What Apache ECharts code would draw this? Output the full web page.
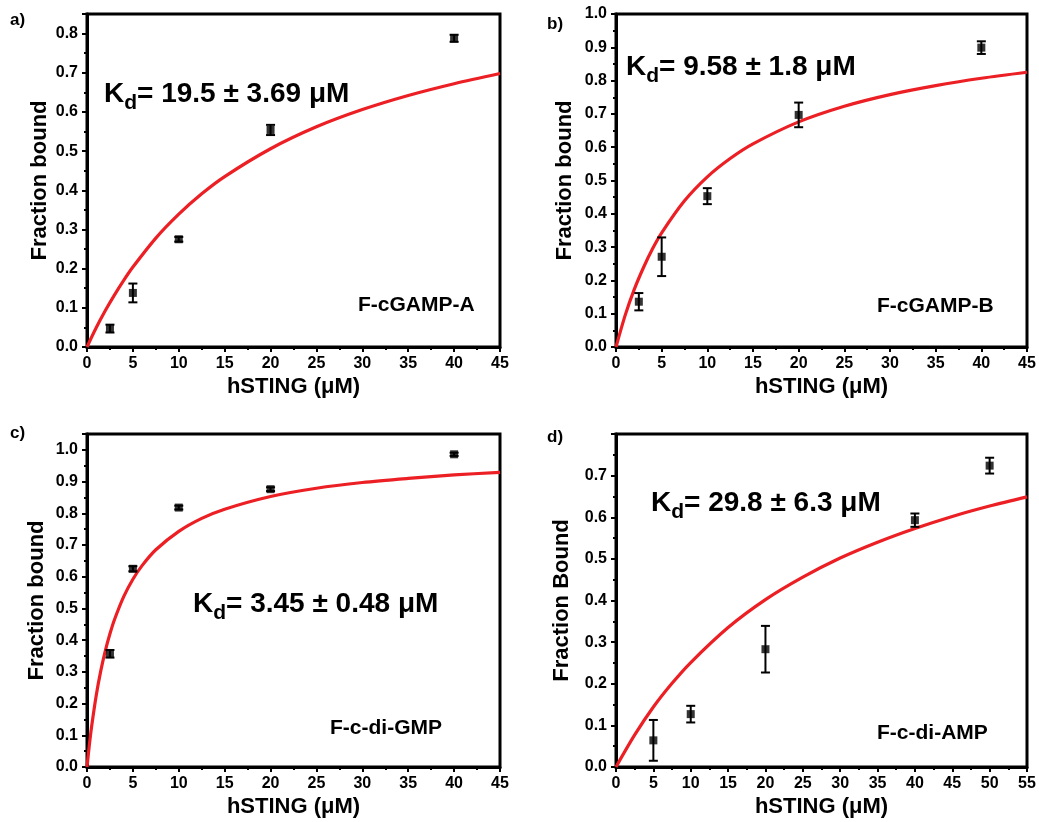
<!DOCTYPE html>
<html>
<head>
<meta charset="utf-8">
<script src="https://cdn.jsdelivr.net/npm/echarts@6/dist/echarts.min.js"></script>
<style>
  html, body { margin: 0; padding: 0; background: #fff; }
  #main { width: 1039px; height: 822px; }
</style>
</head>
<body>
<div id="main"></div>
<script>
// measured points: [hSTING uM, fraction bound, error]
var pointsA = [[2.5, 0.047, 0.010], [5, 0.138, 0.024], [10, 0.275, 0.006], [20, 0.554, 0.013], [40, 0.788, 0.009]];
var pointsB = [[2.5, 0.136, 0.026], [5, 0.271, 0.058], [10, 0.453, 0.024], [20, 0.697, 0.037], [40, 0.899, 0.019]];
var pointsC = [[2.5, 0.357, 0.012], [5, 0.625, 0.008], [10, 0.818, 0.006], [20, 0.876, 0.006], [40, 0.986, 0.005]];
var pointsD = [[5, 0.064, 0.049], [10, 0.127, 0.020], [20, 0.283, 0.056], [40, 0.593, 0.016], [50, 0.724, 0.019]];

// fitted curves
var fitXA = [0, 1, 2, 3, 4, 5, 7.5, 10, 12.5, 15, 20, 25, 30, 35, 40, 45];
var fitYA = [0, 0.049, 0.093, 0.133, 0.170, 0.204, 0.278, 0.339, 0.391, 0.435, 0.506, 0.562, 0.606, 0.642, 0.672, 0.698];
var fitXB = [0, 1, 2, 3, 4, 5, 7.5, 10, 12.5, 15, 20, 25, 30, 35, 40, 45];
var fitYB = [0, 0.095, 0.173, 0.238, 0.295, 0.343, 0.439, 0.511, 0.566, 0.610, 0.676, 0.723, 0.758, 0.785, 0.807, 0.825];
var fitXC = [0, 0.25, 0.5, 1, 1.5, 2, 2.5, 3, 4, 5, 6, 7.5, 10, 12.5, 15, 20, 25, 30, 35, 40, 45];
var fitYC = [0, 0.068, 0.127, 0.225, 0.303, 0.367, 0.420, 0.465, 0.537, 0.592, 0.635, 0.685, 0.743, 0.784, 0.813, 0.853, 0.879, 0.897, 0.910, 0.921, 0.929];
var fitXD = [0, 2.5, 5, 7.5, 10, 15, 20, 25, 30, 35, 40, 45, 50, 55];
var fitYD = [0, 0.077, 0.144, 0.201, 0.251, 0.335, 0.402, 0.456, 0.502, 0.540, 0.573, 0.602, 0.627, 0.649];

var panelLetters = ['a)', 'b)', 'c)', 'd)'];
var kdTexts = ['19.5 ± 3.69 μM', '9.58 ± 1.8 μM', '3.45 ± 0.48 μM', '29.8 ± 6.3 μM'];
var compoundNames = ['F-cGAMP-A', 'F-cGAMP-B', 'F-c-di-GMP', 'F-c-di-AMP'];
var yNames = ['Fraction bound', 'Fraction bound', 'Fraction bound', 'Fraction Bound'];
var xMax = [45, 45, 45, 55];
var yMax = [0.85, 1.0, 1.05, 0.8];

var FONT = '"Liberation Sans", Arial, sans-serif';
var grids = [
  {left: 87, top: 14, width: 413, height: 333},
  {left: 616, top: 14, width: 411, height: 333},
  {left: 87, top: 434, width: 413, height: 333},
  {left: 616, top: 434, width: 411, height: 333}
];
var yGaps = [36, 40, 39, 43];

var allPoints = [pointsA, pointsB, pointsC, pointsD];
var fitX = [fitXA, fitXB, fitXC, fitXD];
var fitY = [fitYA, fitYB, fitYC, fitYD];

var mychart = echarts.init(document.getElementById('main'));

var xAxes = [], yAxes = [], series = [];
for (let i = 0; i < 4; i++) {
  xAxes.push({
    gridIndex: i, type: 'value', min: 0, max: xMax[i], interval: 5,
    name: 'hSTING (μM)', nameLocation: 'middle', nameGap: 29,
    nameTextStyle: {fontFamily: FONT, fontWeight: 'bold', fontSize: 22, color: '#000'},
    axisLine: {show: true, lineStyle: {color: '#000', width: 3}},
    axisTick: {show: true, length: 5, lineStyle: {color: '#000', width: 2}},
    minorTick: {show: true, splitNumber: 2, length: 3, lineStyle: {color: '#000', width: 2}},
    axisLabel: {fontFamily: FONT, fontWeight: 'bold', fontSize: 16, color: '#000', margin: 9},
    splitLine: {show: false}
  });
  yAxes.push({
    gridIndex: i, type: 'value', min: 0, max: yMax[i], interval: 0.1,
    name: yNames[i], nameLocation: 'middle', nameGap: yGaps[i],
    nameTextStyle: {fontFamily: FONT, fontWeight: 'bold', fontSize: 22, color: '#000'},
    axisLine: {show: true, lineStyle: {color: '#000', width: 3}},
    axisTick: {show: true, length: 5, lineStyle: {color: '#000', width: 2}},
    minorTick: {show: true, splitNumber: 2, length: 3, lineStyle: {color: '#000', width: 2}},
    axisLabel: {
      fontFamily: FONT, fontWeight: 'bold', fontSize: 16, color: '#000', margin: 9,
      showMaxLabel: i === 1,
      formatter: function (v) { return v.toFixed(1); }
    },
    splitLine: {show: false}
  });

  let fit = fitX[i].map(function (x, k) { return [x, fitY[i][k]]; });
  series.push({
    type: 'line', xAxisIndex: i, yAxisIndex: i, data: fit, smooth: 0.3,
    showSymbol: false, lineStyle: {color: '#ec1f24', width: 3.2}, z: 3
  });
  series.push({
    type: 'custom', xAxisIndex: i, yAxisIndex: i, data: allPoints[i], z: 4,
    renderItem: function (params, api) {
      let x = api.value(0), y = api.value(1), e = api.value(2);
      let hi = api.coord([x, y + e]), lo = api.coord([x, y - e]);
      let st = {stroke: '#000', lineWidth: 2};
      return {type: 'group', children: [
        {type: 'line', shape: {x1: hi[0], y1: hi[1], x2: lo[0], y2: lo[1]}, style: st},
        {type: 'line', shape: {x1: hi[0] - 4.5, y1: hi[1], x2: hi[0] + 4.5, y2: hi[1]}, style: st},
        {type: 'line', shape: {x1: lo[0] - 4.5, y1: lo[1], x2: lo[0] + 4.5, y2: lo[1]}, style: st}
      ]};
    }
  });
  series.push({
    type: 'scatter', xAxisIndex: i, yAxisIndex: i, z: 5,
    data: allPoints[i].map(function (p) { return [p[0], p[1]]; }),
    symbol: 'rect', symbolSize: 8, itemStyle: {color: '#000'}
  });
}

var letterPos = [[10, 20], [547, 24], [10, 433], [547, 437]];
var kdPos = [[104, 97], [626, 70], [193, 607], [651, 506]];
var namePos = [[358, 305], [877, 306], [330, 728], [877, 733]];

var graphics = [];
for (let i = 0; i < 4; i++) {
  graphics.push({
    type: 'text', x: letterPos[i][0], y: letterPos[i][1],
    style: {text: panelLetters[i], font: 'bold 17px ' + FONT, fill: '#000', verticalAlign: 'middle'}
  });
  graphics.push({
    type: 'text', x: kdPos[i][0], y: kdPos[i][1], z: 10,
    style: {
      text: '{k|K}{s|d}{k|= ' + kdTexts[i] + '}',
      verticalAlign: 'middle', fill: '#000',
      rich: {
        k: {fontFamily: FONT, fontWeight: 'bold', fontSize: 28, lineHeight: 34, verticalAlign: 'top', fill: '#000'},
        s: {fontFamily: FONT, fontWeight: 'bold', fontSize: 21, lineHeight: 22, padding: [16, 0, 0, 0], verticalAlign: 'bottom', fill: '#000'}
      }
    }
  });
  graphics.push({
    type: 'text', x: namePos[i][0], y: namePos[i][1], z: 10,
    style: {text: compoundNames[i], font: 'bold 21px ' + FONT, fill: '#000', verticalAlign: 'middle'}
  });
}

var option = {
  backgroundColor: '#fff',
  animation: false,
  grid: grids.map(function (g) {
    return Object.assign({show: true, borderColor: '#000', borderWidth: 3, backgroundColor: 'transparent'}, g);
  }),
  xAxis: xAxes,
  yAxis: yAxes,
  series: series,
  graphic: graphics
};
mychart.setOption(option);
</script>
</body>
</html>
